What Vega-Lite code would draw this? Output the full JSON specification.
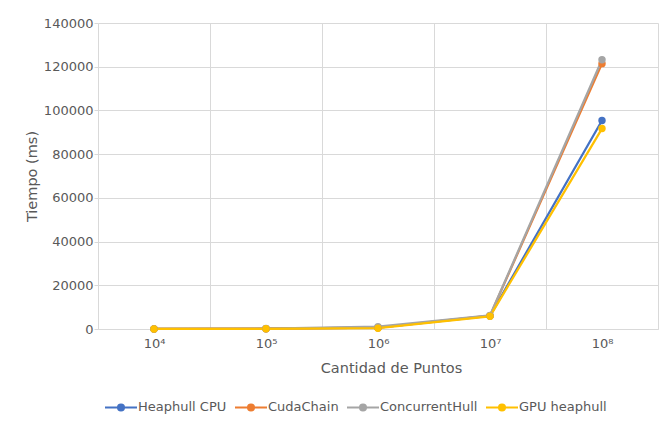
{
  "$schema": "https://vega.github.io/schema/vega-lite/v6.json",
  "width": 560,
  "height": 306,
  "autosize": "none",
  "padding": {"left": 98, "top": 23, "right": 10, "bottom": 94},
  "background": "white",
  "config": {
    "font": "DejaVu Sans",
    "view": {"stroke": null},
    "axis": {
      "labelFont": "DejaVu Sans",
      "labelFontSize": 13,
      "labelColor": "#595959",
      "titleFont": "DejaVu Sans",
      "titleFontSize": 14.5,
      "titleFontWeight": "normal",
      "titleColor": "#595959",
      "gridColor": "#d9d9d9",
      "gridWidth": 1,
      "domainColor": "#d9d9d9",
      "tickColor": "#d9d9d9"
    }
  },
  "data": {
    "values": [
      {"series": "Heaphull CPU", "n": "10⁴", "ms": 20},
      {"series": "Heaphull CPU", "n": "10⁵", "ms": 120},
      {"series": "Heaphull CPU", "n": "10⁶", "ms": 600},
      {"series": "Heaphull CPU", "n": "10⁷", "ms": 6000},
      {"series": "Heaphull CPU", "n": "10⁸", "ms": 95400},
      {"series": "CudaChain", "n": "10⁴", "ms": 30},
      {"series": "CudaChain", "n": "10⁵", "ms": 150},
      {"series": "CudaChain", "n": "10⁶", "ms": 600},
      {"series": "CudaChain", "n": "10⁷", "ms": 6100},
      {"series": "CudaChain", "n": "10⁸", "ms": 121400},
      {"series": "ConcurrentHull", "n": "10⁴", "ms": 40},
      {"series": "ConcurrentHull", "n": "10⁵", "ms": 200},
      {"series": "ConcurrentHull", "n": "10⁶", "ms": 1100},
      {"series": "ConcurrentHull", "n": "10⁷", "ms": 6200},
      {"series": "ConcurrentHull", "n": "10⁸", "ms": 123200},
      {"series": "GPU heaphull", "n": "10⁴", "ms": 15},
      {"series": "GPU heaphull", "n": "10⁵", "ms": 100},
      {"series": "GPU heaphull", "n": "10⁶", "ms": 350},
      {"series": "GPU heaphull", "n": "10⁷", "ms": 5800},
      {"series": "GPU heaphull", "n": "10⁸", "ms": 91700}
    ]
  },
  "encoding": {
    "x": {
      "field": "n",
      "type": "ordinal",
      "sort": null,
      "scale": {"type": "band", "paddingInner": 0, "paddingOuter": 0},
      "axis": {
        "title": "Cantidad de Puntos",
        "labelAngle": 0,
        "tickBand": "extent",
        "grid": true,
        "ticks": false,
        "labelPadding": 8,
        "titleX": 293,
        "titleY": 43,
        "titleBaseline": "alphabetic",
        "titleAlign": "center"
      }
    },
    "y": {
      "field": "ms",
      "type": "quantitative",
      "scale": {"domain": [0, 140000], "nice": false},
      "axis": {
        "title": "Tiempo (ms)",
        "values": [0, 20000, 40000, 60000, 80000, 100000, 120000, 140000],
        "format": "d",
        "grid": true,
        "domain": false,
        "tickSize": 4,
        "labelPadding": 1,
        "titleX": -66,
        "titleY": 153,
        "titleAngle": -90,
        "titleBaseline": "middle",
        "titleAlign": "center"
      }
    },
    "color": {
      "field": "series",
      "type": "nominal",
      "sort": null,
      "scale": {
        "domain": ["Heaphull CPU", "CudaChain", "ConcurrentHull", "GPU heaphull"],
        "range": ["#4472C4", "#ED7D31", "#A5A5A5", "#FFC000"]
      },
      "legend": {
        "orient": "none",
        "legendX": 6,
        "legendY": 367,
        "direction": "horizontal",
        "title": null,
        "symbolType": "M-1,0L1,0M-0.19,0A0.19,0.19 0 1,1 0.19,0A0.19,0.19 0 1,1 -0.19,0Z",
        "symbolSize": 1024,
        "symbolStrokeWidth": 2,
        "symbolOpacity": 1,
        "labelFont": "DejaVu Sans",
        "labelFontSize": 13,
        "labelColor": "#595959",
        "labelOffset": 0,
        "columnPadding": 4,
        "encode": {
          "symbols": {
            "update": {
              "fill": {"scale": "color", "field": "value"},
              "stroke": {"scale": "color", "field": "value"}
            }
          }
        }
      }
    }
  },
  "layer": [
    {"mark": {"type": "line", "strokeWidth": 2.25, "strokeCap": "round", "strokeJoin": "round"}},
    {"mark": {"type": "point", "filled": true, "size": 55, "opacity": 1}}
  ]
}
